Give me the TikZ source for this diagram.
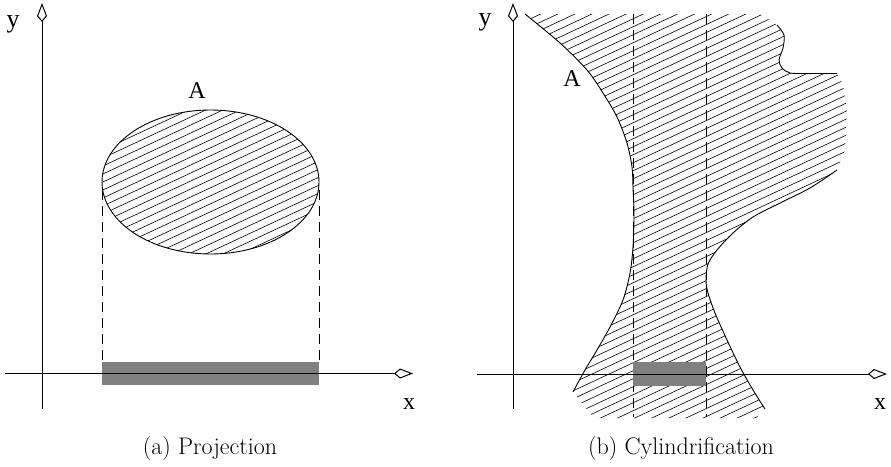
\documentclass[tikz,border=0pt]{standalone}
\usepackage{fontspec}
\newfontfamily\timesfont{Liberation Serif}
\usetikzlibrary{arrows.meta}
\definecolor{shade}{RGB}{128,128,128}
\begin{document}
\begin{tikzpicture}[x=1pt,y=-1pt,
  axis/.style={line width=1pt,-{Kite[open,length=19pt,width=10pt,inset=6pt,line width=1pt]}},
  boundary/.style={line width=0.9pt},
  hatchline/.style={line width=0.6pt},
  projline/.style={line width=0.8pt,dash pattern=on 10pt off 6pt},
  shadowbar/.style={fill=shade,draw=none},
  lab/.style={font=\timesfont\fontsize{26}{26}\selectfont,inner sep=0pt,anchor=base},
  labx/.style={font=\timesfont\fontsize{24}{24}\selectfont,inner sep=0pt,anchor=base},
  labA/.style={font=\timesfont\fontsize{24}{24}\selectfont,inner sep=0pt,anchor=base},
  captext/.style={font=\fontsize{24}{24}\selectfont,inner sep=0pt,anchor=base}]
\useasboundingbox (0,0) rectangle (891,466);

% ---------------- (a) Projection ----------------
\begin{scope}
  \clip (210.5,182) ellipse [x radius=108.5pt, y radius=72pt];
  \foreach \i in {0,...,40} \draw[hatchline] (90,100+8*\i) -- (330,100+8*\i-112);
\end{scope}
\draw[boundary] (210.5,182) ellipse [x radius=108.5pt, y radius=72pt];
\coordinate (pa1t) at (102,190); \coordinate (pa1b) at (102,362);
\coordinate (pa2t) at (319,190); \coordinate (pa2b) at (319,362);
\draw[projline] (pa1t) -- (pa1b);
\draw[projline] (pa2t) -- (pa2b);
\fill[shadowbar] (102,362) rectangle (319,385);
\coordinate (ya0) at (42,409); \coordinate (ya1) at (42,3);
\coordinate (xa0) at (5,373.5); \coordinate (xa1) at (413,373.5);
\draw[axis] (ya0) -- (ya1);
\draw[axis] (xa0) -- (xa1);
\node[lab] (ylaba) at (13,27) {y};
\node[labx] (xlaba) at (409,409.5) {x};
\node[labA] (Aa) at (197,98) {A};
\node[captext] (capa) at (210,454) {(a) Projection};

% ---------------- (b) Cylindrification ----------------
\begin{scope}
  \clip plot[smooth] coordinates {(525,14) (560,43) (587,70) (603,93) (617,117) (627,143) (632,167) (633,187) (634,215) (633,247) (630,273) (623,300) (610,327) (597,350) (585,370) (573,392)}
    -- (594,418) -- (756,418)
    -- plot[smooth] coordinates {(765,409) (753,390) (740,367) (727,340) (715,313) (708,293) (706,280) (708,264) (717,250) (733,233) (753,217) (780,203) (810,188) (837,170)}
    -- (845,150) -- (847,110) -- (843,85) -- (837,73.5) -- (805,73.5)
    -- plot[smooth] coordinates {(790,73) (782,68) (779,60) (783,48) (784,35) (777,25)}
    -- (760,14) -- cycle;
  \foreach \i in {0,...,75} \draw[hatchline] (515,10+8*\i) -- (855,10+8*\i-159);
\end{scope}
\draw[boundary] plot[smooth] coordinates {(525,14) (560,43) (587,70) (603,93) (617,117) (627,143) (632,167) (633,187) (634,215) (633,247) (630,273) (623,300) (610,327) (597,350) (585,370) (573,392)};
\draw[boundary] plot[smooth] coordinates {(837,170) (810,188) (780,203) (753,217) (733,233) (717,250) (708,264) (706,280) (708,293) (715,313) (727,340) (740,367) (753,390) (765,409)};
\draw[boundary] plot[smooth] coordinates {(777,25) (784,35) (783,48) (779,60) (782,68) (790,73) (805,73.5)} -- (837,73.5);
\coordinate (pb1t) at (633,14); \coordinate (pb1b) at (633,417);
\coordinate (pb2t) at (706,14); \coordinate (pb2b) at (706,417);
\draw[projline] (pb1t) -- (pb1b);
\draw[projline] (pb2t) -- (pb2b);
\fill[shadowbar] (633,362) rectangle (706,386);
\coordinate (yb0) at (513,409); \coordinate (yb1) at (513,3);
\coordinate (xb0) at (477,374); \coordinate (xb1) at (887,374);
\draw[axis] (yb0) -- (yb1);
\draw[axis] (xb0) -- (xb1);
\node[lab] (ylabb) at (485,25) {y};
\node[labx] (xlabb) at (880,409.5) {x};
\node[labA] (Ab) at (572,86) {A};
\node[captext] (capb) at (681,454) {(b) Cylindrification};
\end{tikzpicture}
\end{document}
